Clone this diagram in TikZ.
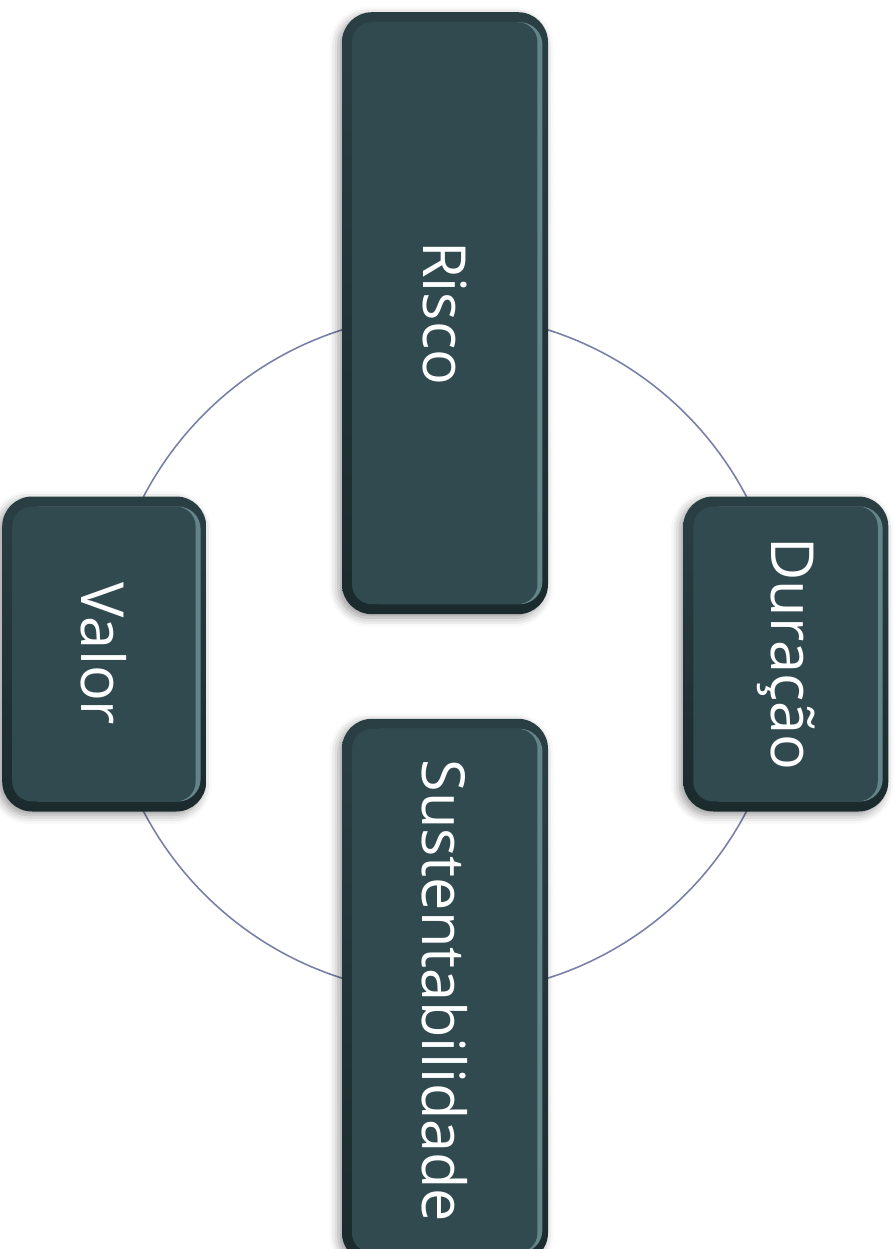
\documentclass[tikz,border=0pt]{standalone}
\usepackage{fontspec}
\newfontfamily\boxfont{Open Sans}
\usepackage{tikz}
\usetikzlibrary{positioning}
\usetikzlibrary{shadows.blur}
\definecolor{boxfill}{HTML}{314A50}
\definecolor{boxrimtop}{HTML}{2A3F44}
\definecolor{boxrim}{HTML}{1B2A2D}
\definecolor{boxlight}{HTML}{638489}
\definecolor{ringline}{HTML}{7880A8}

\newcommand{\downtext}[1]{\rotatebox{-90}{#1}}

\begin{document}
\begin{tikzpicture}[
        ring/.style={circle,draw=ringline,line width=0.9pt,minimum size=13.6cm,inner sep=0pt},
        box/.style={rectangle,rounded corners=0.6cm,top color=boxrimtop,bottom color=boxrim,text=white,
            font=\boxfont\fontsize{33.8}{33.8}\selectfont,inner sep=0pt,
            blur shadow={shadow xshift=-2pt,shadow yshift=-2pt,shadow blur radius=5pt,shadow opacity=40},
            path picture={
                \fill[boxlight,rounded corners=0.45cm]
                    ([shift={(-3.2pt,-5.7pt)}]path picture bounding box.north east) rectangle
                    ([shift={(9pt,5.7pt)}]path picture bounding box.south west);
                \fill[boxfill,rounded corners=0.4cm]
                    ([shift={(-6pt,-5.7pt)}]path picture bounding box.north east) rectangle
                    ([shift={(5.7pt,5.7pt)}]path picture bounding box.south west);
            }}]
   \useasboundingbox (0,0) rectangle (17.86,-24.98);
   \node[ring] (ring) at (8.9,-13.08) {};
   \coordinate (sustpos) at ([yshift=0.8mm]ring.south);
   \node[box,minimum width=4.12cm,minimum height=12.04cm] (risco) at (ring.north) {\downtext{Risco}};
   \node[box,minimum width=4.08cm,minimum height=6.3cm] (valor) at (ring.west) {\downtext{Valor}};
   \node[box,minimum width=4.1cm,minimum height=6.3cm] (duracao) at (ring.east) {\downtext{Duração}};
   \node[box,minimum width=4.12cm,minimum height=10.88cm] (sust) at (sustpos) {\downtext{Sustentabilidade}};
\end{tikzpicture}
\end{document}
